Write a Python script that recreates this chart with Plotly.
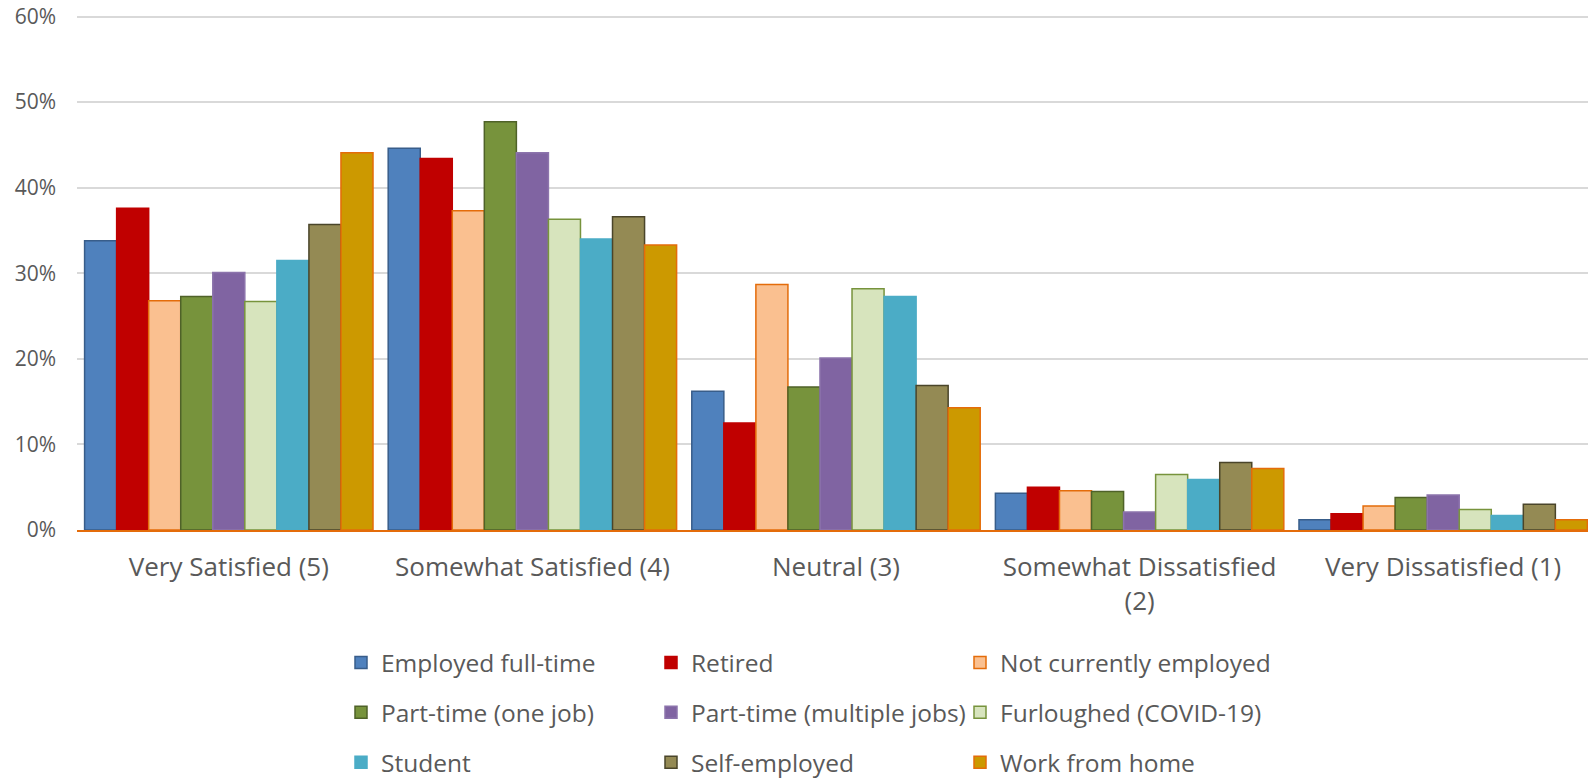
import plotly.graph_objects as go

categories = ["Very Satisfied (5)", "Somewhat Satisfied (4)", "Neutral (3)",
              "Somewhat Dissatisfied<br>(2)", "Very Dissatisfied (1)"]

employed_full_time = [33.8, 44.6, 16.2, 4.3, 1.2]
retired = [37.6, 43.4, 12.5, 5.0, 1.9]
not_currently_employed = [26.8, 37.3, 28.7, 4.6, 2.8]
part_time_one = [27.3, 47.7, 16.7, 4.5, 3.8]
part_time_multiple = [30.1, 44.1, 20.1, 2.1, 4.1]
furloughed = [26.7, 36.3, 28.2, 6.5, 2.4]
student = [31.5, 34.0, 27.3, 5.9, 1.7]
self_employed = [35.7, 36.6, 16.9, 7.9, 3.0]
work_from_home = [44.1, 33.3, 14.3, 7.2, 1.2]

y_ticks = [0, 0.1, 0.2, 0.3, 0.4, 0.5, 0.6]
y_tick_labels = ["0%", "10%", "20%", "30%", "40%", "50%", "60%"]

series = [
    ("Employed full-time", employed_full_time, "#4F81BD", "#385D8A", "legend"),
    ("Retired", retired, "#C00000", "#C00000", "legend2"),
    ("Not currently employed", not_currently_employed, "#FAC090", "#E46C0A", "legend3"),
    ("Part-time (one job)", part_time_one, "#77933C", "#4F6228", "legend"),
    ("Part-time (multiple jobs)", part_time_multiple, "#8064A2", "#8C74AC", "legend2"),
    ("Furloughed (COVID-19)", furloughed, "#D7E4BD", "#77933C", "legend3"),
    ("Student", student, "#4BACC6", "#4BACC6", "legend"),
    ("Self-employed", self_employed, "#948A54", "#4A452A", "legend2"),
    ("Work from home", work_from_home, "#CC9900", "#E46C0A", "legend3"),
]

FONT = "Open Sans"
TXT = "#595959"
xpos = list(range(len(categories)))

fig = go.Figure()
for i, (name, vals, fill, line, leg) in enumerate(series):
    fig.add_trace(go.Bar(
        name=name, x=xpos, y=[v / 100 for v in vals],
        marker=dict(color=fill, line=dict(color=line, width=1.5)),
        legend=leg, legendgroup=f"g{i}",
    ))

def legend_cfg(xpx):
    return dict(
        xref="container", yref="container",
        x=xpx / 1596, y=1 - 632 / 778, xanchor="left", yanchor="top",
        orientation="v", tracegroupgap=15,
        font=dict(family=FONT, size=24.5, color=TXT),
        bgcolor="rgba(0,0,0,0)", borderwidth=0,
    )

fig.update_layout(
    width=1596, height=778,
    paper_bgcolor="white", plot_bgcolor="white",
    margin=dict(l=69, r=9, t=6, b=256, autoexpand=False),
    barmode="group", bargap=0.05, bargroupgap=0,
    font=dict(family=FONT, color=TXT),
    showlegend=True,
    legend=legend_cfg(333),
    legend2=legend_cfg(643),
    legend3=legend_cfg(952),
    xaxis=dict(
        range=[-0.5, len(categories) - 0.5],
        tickvals=xpos, ticktext=categories,
        showgrid=False, showline=True, linecolor="#E46C0A", linewidth=2,
        zeroline=False, ticks="", tickfont=dict(family=FONT, size=26, color=TXT),
        ticklabelstandoff=13,
    ),
    yaxis=dict(
        range=[0, 0.603], tickvals=y_ticks, ticktext=y_tick_labels,
        showgrid=True, gridcolor="#D9D9D9", gridwidth=1.5,
        zeroline=False, showline=False, ticks="",
        tickfont=dict(family=FONT, size=21, color=TXT),
        ticklabelstandoff=20, ticklabeloverflow="allow",
    ),
)

fig.write_html("out.html")
